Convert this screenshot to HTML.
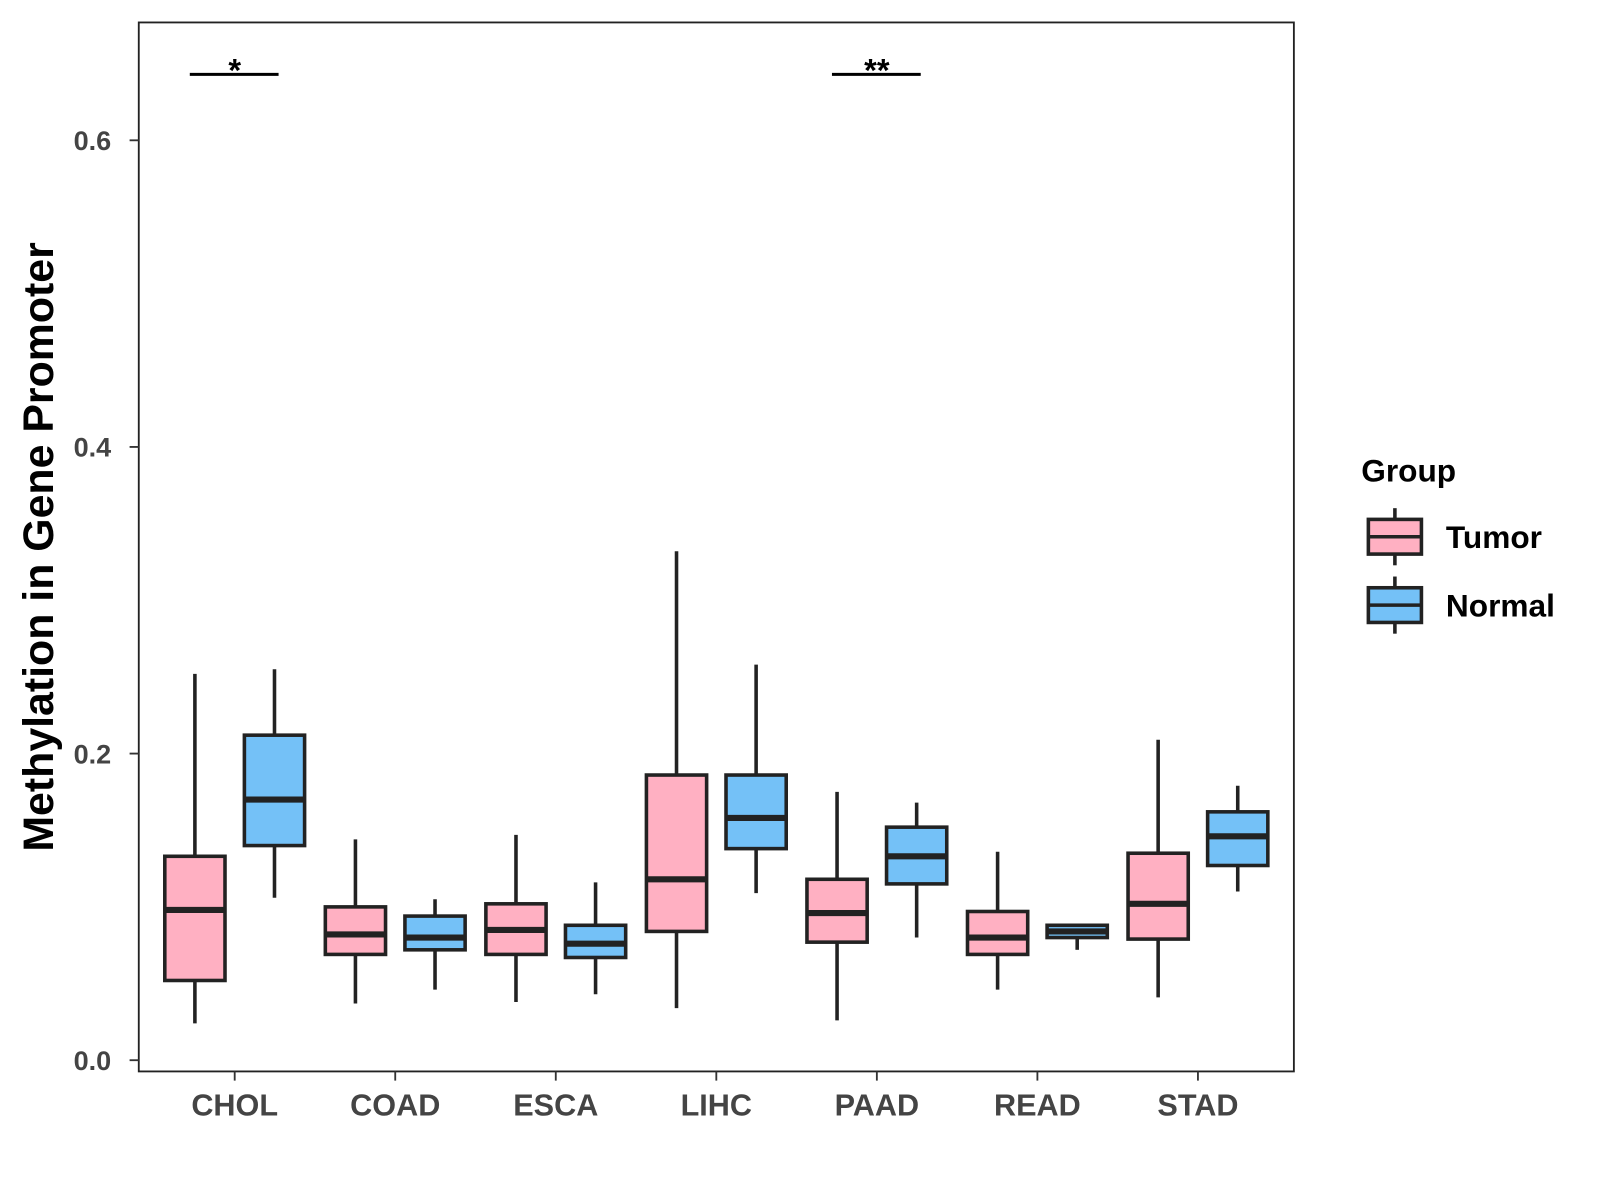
<!DOCTYPE html>
<html><head><meta charset="utf-8"><style>
html,body{margin:0;padding:0;background:#fff;}
svg{display:block;font-family:"Liberation Sans",Arial,sans-serif;}
</style></head><body>
<svg id="chart" width="1600" height="1200" viewBox="0 0 1568 1176" xmlns="http://www.w3.org/2000/svg">
<rect x="0" y="0" width="1568" height="1176" fill="#fff"/>
</svg>
<script>
const categories = ["CHOL","COAD","ESCA","LIHC","PAAD","READ","STAD"];
const groups = ["Tumor","Normal"];
// [min, q1, median, q3, max]
const tumorStats = [
 [0.024,0.052,0.098,0.133,0.252],
 [0.037,0.069,0.082,0.100,0.144],
 [0.038,0.069,0.085,0.102,0.147],
 [0.034,0.084,0.118,0.186,0.332],
 [0.026,0.077,0.096,0.118,0.175],
 [0.046,0.069,0.080,0.097,0.136],
 [0.041,0.079,0.102,0.135,0.209]
];
const normalStats = [
 [0.106,0.140,0.170,0.212,0.255],
 [0.046,0.072,0.080,0.094,0.105],
 [0.043,0.067,0.076,0.088,0.116],
 [0.109,0.138,0.158,0.186,0.258],
 [0.080,0.115,0.133,0.152,0.168],
 [0.072,0.080,0.084,0.088,0.088],
 [0.110,0.127,0.146,0.162,0.179]
];
const yTicks = [0.0,0.2,0.4,0.6];
const yTickLabels = ["0.0","0.2","0.4","0.6"];
const sigCategories = ["CHOL","PAAD"];
const sigLabels = ["*","**"];
const sigLevel = 0.643;

const NS="http://www.w3.org/2000/svg";
const svg=document.getElementById('chart');
const P={l:136,t:22,r:1268,b:1050};
const y=v=>1039-v*1502.5;
const x=i=>230+i*157.33;
const half=29.5, off=39;
const colors={Tumor:"#FFB0C2",Normal:"#74C1F7"};
function el(tag,attrs,parent){const e=document.createElementNS(NS,tag);for(const k in attrs)e.setAttribute(k,attrs[k]);(parent||svg).appendChild(e);return e;}

const panel=el('rect',{x:P.l,y:P.t,width:P.r-P.l,height:P.b-P.t,fill:"none",stroke:"#222","stroke-width":1.8});



yTicks.forEach((t,i)=>{
 const g=el('g',{});
 
 
 el('line',{x1:P.l-9,x2:P.l,y1:y(t),y2:y(t),stroke:"#333","stroke-width":1.8},g);
 const tx=el('text',{x:109,y:y(t)+9.5,"text-anchor":"end","font-size":26.5,"font-weight":"bold",fill:"#444"},g);
 tx.textContent=yTickLabels[i];
});
categories.forEach((c,i)=>{
 const g=el('g',{});
 
 
 el('line',{x1:x(i),x2:x(i),y1:P.b,y2:P.b+9,stroke:"#333","stroke-width":1.8},g);
 const tx=el('text',{x:x(i),y:1093,"text-anchor":"middle","font-size":30,"font-weight":"bold",fill:"#444"},g);
 tx.textContent=c;
});
const yt=el('text',{x:52,y:536,"text-anchor":"middle","font-size":42,"font-weight":"bold",fill:"#000",transform:"rotate(-90 52 536)"});
yt.textContent="Methylation in Gene Promoter";



function box(cx,s,fill,name){
 const g=el('g',{});
 
 
 el('line',{x1:cx,x2:cx,y1:y(s[0]),y2:y(s[4]),stroke:"#222","stroke-width":3.5},g);
 el('rect',{x:cx-half,y:y(s[3]),width:2*half,height:Math.max(y(s[1])-y(s[3]),1),fill:fill,stroke:"#222","stroke-width":3.5},g);
 el('line',{x1:cx-half,x2:cx+half,y1:y(s[2]),y2:y(s[2]),stroke:"#222","stroke-width":6},g);
}
categories.forEach((c,i)=>{
 box(x(i)-off,tumorStats[i],colors.Tumor,'box-'+c.toLowerCase()+'-tumor');
 box(x(i)+off,normalStats[i],colors.Normal,'box-'+c.toLowerCase()+'-normal');
});
sigCategories.forEach((c,k)=>{
 const i=categories.indexOf(c);
 const g=el('g',{});
 
 
 el('line',{x1:x(i)-44,x2:x(i)+43,y1:y(sigLevel),y2:y(sigLevel),stroke:"#000","stroke-width":3},g);
 const t=el('text',{x:x(i),y:y(sigLevel)+7,"text-anchor":"middle","font-size":32,"font-weight":"bold",fill:"#000"},g);
 t.textContent=sigLabels[k];
});
// legend
const lg=el('g',{});


const lt=el('text',{x:1334,y:472,"font-size":31,"font-weight":"bold",fill:"#000"},lg);
lt.textContent="Group";
groups.forEach((gname,k)=>{
 const cy=526+k*67;
 const e=el('g',{},lg);
 
 
 el('line',{x1:1367,x2:1367,y1:cy-28,y2:cy+28,stroke:"#222","stroke-width":3.5},e);
 el('rect',{x:1341,y:cy-17,width:52,height:34,fill:colors[gname],stroke:"#222","stroke-width":3.5},e);
 el('line',{x1:1341,x2:1393,y1:cy,y2:cy,stroke:"#222","stroke-width":3.5},e);
 const t=el('text',{x:1417,y:cy+11,"font-size":31,"font-weight":"bold",fill:"#000"},e);
 t.textContent=gname;
});
</script>
</body></html>
